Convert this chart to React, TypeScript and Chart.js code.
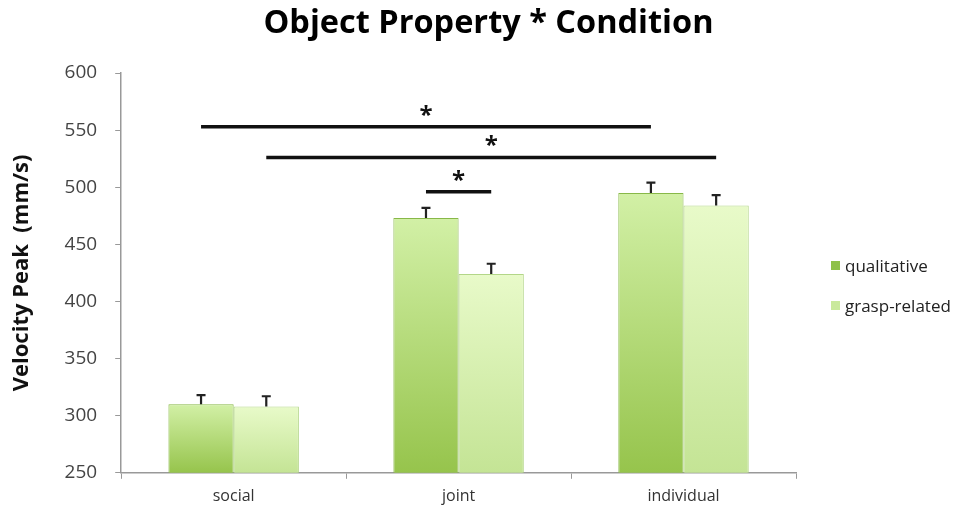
import React, { useEffect, useRef } from "react";
import { Chart, registerables } from "chart.js";
Chart.register(...registerables);

const categories = ["social", "joint", "individual"];
const seriesNames = ["qualitative", "grasp-related"];
const qualitative = [310, 473, 495];
const graspRelated = [308, 424, 484];
const qualitativeErr = [8, 9, 9];
const graspRelatedErr = [9, 9, 9];
const yMin = 250;
const yMax = 600;
const yStep = 50;
// significance brackets: [fromCategory, fromSeries, toCategory, toSeries, yValue]
const sigFromCat = [0, 0, 1];
const sigFromSeries = [0, 1, 0];
const sigToCat = [2, 2, 1];
const sigToSeries = [0, 1, 1];
const sigLevel = [553, 526, 496];
const sigLabel = ["*", "*", "*"];

const FONT = "'Open Sans', sans-serif";

const topColors = ["#d2f0a6", "#e8fac9"];
const bottomColors = ["#96c44c", "#c4e495"];
const borderColors = ["#88b848", "#b3d688"];
const legendColors = ["#8fc14a", "#c9e99c"];

function barGradient(seriesIdx: number) {
  return (ctx: any) => {
    const chart = ctx.chart;
    const ca = chart.chartArea;
    if (!ca) return topColors[seriesIdx];
    const ys = chart.scales.y;
    const v = ctx.raw;
    let top = ca.top;
    if (ys && typeof v === "number") top = ys.getPixelForValue(v);
    const g = chart.ctx.createLinearGradient(0, top, 0, ca.bottom);
    g.addColorStop(0, topColors[seriesIdx]);
    g.addColorStop(1, bottomColors[seriesIdx]);
    return g;
  };
}

const overlayPlugin = {
  id: "overlay",
  afterDatasetsDraw(chart: any) {
    const ctx = chart.ctx;
    const ys = chart.scales.y;
    const ca = chart.chartArea;
    const errs = [qualitativeErr, graspRelatedErr];
    const vals = [qualitative, graspRelated];
    ctx.save();
    // error bars (upper only)
    ctx.strokeStyle = "#222";
    ctx.lineWidth = 2.2;
    for (let d = 0; d < 2; d++) {
      const meta = chart.getDatasetMeta(d);
      meta.data.forEach((bar: any, i: number) => {
        const x = bar.x;
        const y0 = ys.getPixelForValue(vals[d][i]);
        const y1 = ys.getPixelForValue(vals[d][i] + errs[d][i]);
        ctx.beginPath();
        ctx.moveTo(x, y0);
        ctx.lineTo(x, y1);
        ctx.moveTo(x - 4.5, y1);
        ctx.lineTo(x + 4.5, y1);
        ctx.stroke();
      });
    }
    // significance brackets
    ctx.lineWidth = 3.5;
    ctx.strokeStyle = "#111";
    ctx.fillStyle = "#111";
    ctx.font = "bold 24px " + FONT;
    ctx.textAlign = "center";
    ctx.textBaseline = "middle";
    for (let s = 0; s < sigLevel.length; s++) {
      const xa = chart.getDatasetMeta(sigFromSeries[s]).data[sigFromCat[s]].x;
      const xb = chart.getDatasetMeta(sigToSeries[s]).data[sigToCat[s]].x;
      const y = ys.getPixelForValue(sigLevel[s]);
      ctx.beginPath();
      ctx.moveTo(xa, y);
      ctx.lineTo(xb, y);
      ctx.stroke();
      ctx.fillText(sigLabel[s], (xa + xb) / 2, y - 11);
    }
    // legend
    ctx.font = "17px " + FONT;
    ctx.textAlign = "left";
    ctx.textBaseline = "middle";
    for (let i = 0; i < seriesNames.length; i++) {
      const ly = ca.top + 194 + i * 40;
      const lx = ca.right + 35;
      ctx.fillStyle = legendColors[i];
      ctx.fillRect(lx, ly - 6, 9, 9);
      ctx.fillStyle = "#222";
      ctx.fillText(seriesNames[i], lx + 14, ly);
    }
    ctx.restore();
  },
};

export default function App() {
  const ref = useRef<HTMLCanvasElement>(null);
  useEffect(() => {
    if (!ref.current) return;
    const chart = new Chart(ref.current, {
      type: "bar",
      data: {
        labels: categories,
        datasets: [
          {
            label: seriesNames[0],
            data: qualitative,
            backgroundColor: barGradient(0),
            borderColor: borderColors[0],
            borderWidth: 1,
          },
          {
            label: seriesNames[1],
            data: graspRelated,
            backgroundColor: barGradient(1),
            borderColor: borderColors[1],
            borderWidth: 1,
          },
        ],
      },
      options: {
        animation: false,
        responsive: true,
        maintainAspectRatio: false,
        datasets: { bar: { categoryPercentage: 0.58, barPercentage: 1 } },
        layout: { padding: { left: 24, right: 0, top: 0, bottom: -6 } },
        plugins: {
          title: {
            display: true,
            text: "Object Property * Condition",
            color: "#000",
            font: { family: FONT, size: 32.5, weight: "bold" },
            padding: { top: 4, bottom: 30 },
          },
          legend: { display: false },
          tooltip: { enabled: false },
        },
        scales: {
          x: {
            grid: { display: true, drawOnChartArea: false, tickLength: 6, color: "#999", offset: true },
            border: { color: "#999", width: 1.5 },
            ticks: { color: "#333", font: { family: FONT, size: 16 }, padding: 8 },
          },
          y: {
            min: yMin,
            max: yMax,
            grid: { display: true, drawOnChartArea: false, tickLength: 6, color: "#999" },
            border: { color: "#999", width: 1.5 },
            ticks: { stepSize: yStep, color: "#444", font: { family: FONT, size: 19 }, padding: 18 },
            title: {
              display: true,
              text: "Velocity Peak  (mm/s)",
              color: "#111",
              font: { family: FONT, size: 22, weight: "bold" },
              padding: { top: -15.2, bottom: 11.4 },
            },
          },
          legendSpace: {
            type: "linear",
            position: "right",
            display: true,
            grid: { display: false },
            border: { display: false },
            ticks: { display: false },
            afterFit: (scale: any) => {
              scale.width = 157;
            },
          },
        },
      },
      plugins: [overlayPlugin],
    });
    return () => chart.destroy();
  }, []);
  return (
    <div style={{ position: "fixed", left: 0, top: 0, width: 953, height: 508, background: "#fff" }}>
      <canvas ref={ref} />
    </div>
  );
}
